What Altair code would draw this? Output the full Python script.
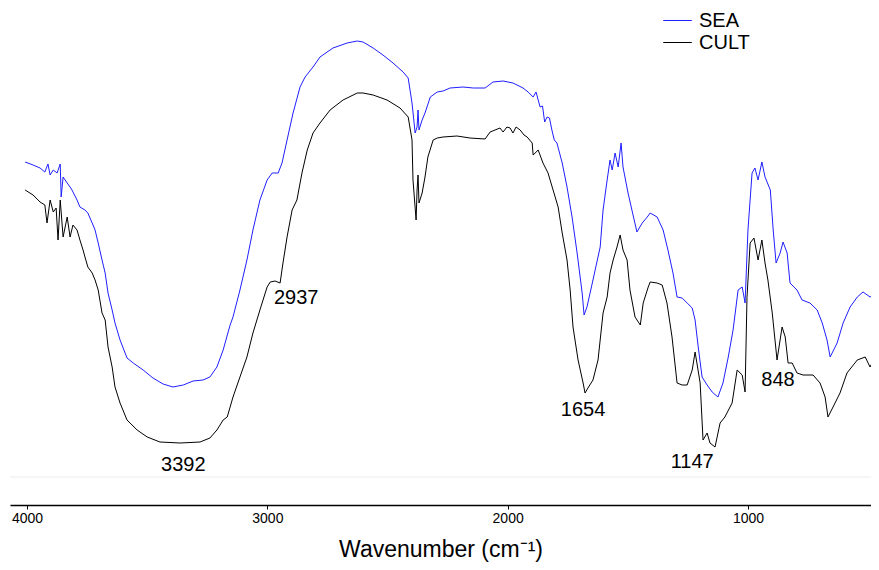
import altair as alt
import pandas as pd

# ---- data (wavenumber cm-1, transmittance a.u.) ----
sea_wn = [4008, 3975, 3946, 3926, 3913, 3904, 3891, 3875, 3862, 3858, 3850, 3833, 3821, 3813, 3792,
          3780, 3759, 3747, 3729, 3717, 3704, 3688, 3675, 3663, 3646, 3634, 3613, 3584, 3558, 3517,
          3476, 3434, 3393, 3350, 3309, 3268, 3239, 3210, 3184, 3155, 3143, 3114, 3085, 3060, 3031,
          3001, 2980, 2968, 2955, 2939, 2918, 2893, 2864, 2843, 2810, 2781, 2727, 2668, 2626, 2602,
          2560, 2519, 2477, 2435, 2414, 2398, 2385, 2377, 2373, 2369, 2356, 2344, 2322, 2293, 2269,
          2240, 2186, 2143, 2094, 2061, 2019, 1978, 1936, 1915, 1894, 1882, 1865, 1855, 1846, 1836,
          1826, 1816, 1806, 1795, 1773, 1753, 1732, 1711, 1690, 1682, 1670, 1645, 1615, 1603, 1586,
          1574, 1565, 1553, 1540, 1528, 1520, 1499, 1483, 1462, 1440, 1419, 1407, 1378, 1353, 1333,
          1312, 1295, 1274, 1253, 1232, 1220, 1207, 1191, 1170, 1149, 1125, 1104, 1082, 1062, 1041,
          1024, 1012, 1000, 983, 971, 958, 942, 929, 907, 895, 883, 866, 854, 837, 825,
          796, 775, 742, 712, 691, 671, 658, 629, 604, 575, 545, 521, 492, 471, 454]
sea_t = [68.6, 68.0, 67.4, 66.6, 68.2, 66.0, 67.0, 66.4, 68.2, 61.6, 65.6, 64.4, 63.6, 63.0, 61.0,
         59.6, 59.0, 58.4, 56.4, 55.0, 52.4, 49.0, 46.4, 42.4, 39.0, 36.4, 33.0, 29.4, 28.4, 27.0,
         25.4, 24.2, 23.6, 24.0, 24.8, 25.0, 25.6, 27.6, 31.0, 36.0, 37.6, 43.0, 49.0, 55.0, 61.0,
         65.0, 66.4, 66.4, 66.4, 68.4, 73.0, 78.4, 83.6, 85.6, 87.6, 89.6, 91.4, 92.4, 92.8, 92.6,
         91.4, 90.0, 88.4, 86.6, 85.4, 80.4, 74.4, 75.6, 79.0, 75.0, 77.0, 78.4, 81.6, 82.6, 82.8,
         83.4, 83.6, 83.4, 83.4, 84.6, 84.8, 84.4, 83.4, 82.6, 81.6, 82.6, 79.6, 79.8, 76.6, 77.6,
         77.4, 75.0, 73.0, 72.4, 68.4, 63.6, 57.6, 50.4, 42.4, 38.0, 39.6, 45.0, 51.6, 59.0, 65.0,
         69.0, 67.0, 70.4, 67.6, 72.4, 67.6, 62.4, 59.0, 54.6, 56.4, 57.6, 58.4, 57.6, 55.0, 51.0,
         46.4, 41.6, 41.4, 40.4, 39.4, 37.0, 31.6, 25.6, 24.0, 22.6, 21.6, 24.4, 29.6, 35.0, 43.0,
         43.6, 40.4, 55.0, 66.4, 67.4, 65.0, 68.6, 65.6, 63.0, 55.0, 48.4, 50.4, 52.6, 50.4, 44.4,
         43.0, 41.0, 40.4, 39.0, 36.4, 33.0, 29.6, 32.4, 36.4, 39.6, 41.6, 42.6, 41.6, 42.0, 40.6]

cult_wn = [4008, 3975, 3946, 3926, 3917, 3904, 3891, 3879, 3871, 3862, 3850, 3833, 3821, 3809, 3792,
           3780, 3767, 3759, 3747, 3729, 3717, 3704, 3688, 3675, 3663, 3646, 3634, 3613, 3584, 3542,
           3500, 3447, 3363, 3280, 3239, 3210, 3184, 3167, 3143, 3114, 3085, 3060, 3031, 3001, 2988,
           2968, 2947, 2935, 2918, 2897, 2877, 2856, 2834, 2810, 2781, 2739, 2685, 2626, 2602, 2560,
           2502, 2448, 2414, 2398, 2394, 2381, 2377, 2373, 2369, 2356, 2344, 2332, 2310, 2293, 2269,
           2211, 2157, 2094, 2073, 2032, 2019, 2003, 1990, 1978, 1965, 1948, 1932, 1919, 1898, 1894,
           1873, 1853, 1832, 1811, 1790, 1773, 1753, 1740, 1728, 1707, 1686, 1678, 1666, 1645, 1624,
           1603, 1586, 1574, 1561, 1545, 1532, 1520, 1503, 1491, 1470, 1448, 1436, 1415, 1407, 1378,
           1357, 1337, 1316, 1295, 1274, 1253, 1232, 1220, 1199, 1187, 1170, 1158, 1137, 1116, 1096,
           1066, 1045, 1024, 1012, 1004, 991, 975, 958, 942, 929, 917, 899, 879, 858, 845,
           833, 816, 796, 771, 729, 700, 679, 667, 646, 617, 588, 545, 512, 492, 471, 454]
cult_t = [63.0, 62.0, 60.6, 60.0, 56.4, 61.0, 58.6, 59.4, 53.0, 61.0, 53.6, 57.6, 53.6, 56.0, 55.0,
          53.0, 51.0, 49.6, 47.6, 46.4, 45.0, 43.0, 38.4, 37.0, 31.6, 27.6, 23.6, 20.4, 17.0, 15.0,
          13.6, 12.6, 12.4, 12.6, 13.4, 15.0, 17.0, 17.6, 21.6, 25.6, 29.6, 34.4, 39.0, 43.6, 44.6,
          44.8, 44.4, 48.4, 53.6, 59.0, 61.0, 66.4, 71.0, 74.4, 76.4, 79.0, 81.0, 82.4, 82.4, 82.0,
          81.0, 79.4, 77.6, 73.0, 65.0, 57.0, 63.0, 66.0, 60.4, 62.4, 65.6, 69.6, 73.0, 73.4, 73.6,
          73.8, 73.4, 73.2, 74.6, 75.4, 74.6, 75.6, 75.4, 74.4, 75.6, 75.0, 74.0, 73.6, 72.4, 70.0,
          71.0, 68.4, 66.4, 63.0, 59.6, 54.4, 49.0, 43.0, 35.6, 29.0, 24.4, 22.4, 23.4, 25.0, 29.0,
          38.4, 41.6, 46.4, 49.0, 51.6, 54.0, 51.0, 49.0, 43.0, 37.6, 36.0, 40.4, 43.6, 44.6, 44.4,
          44.0, 40.4, 33.6, 24.4, 24.0, 24.0, 27.0, 30.6, 24.4, 13.0, 14.4, 12.4, 11.6, 16.4, 17.6,
          20.4, 27.0, 26.0, 22.6, 41.6, 52.4, 53.4, 49.0, 53.0, 48.4, 45.0, 38.4, 29.0, 35.6, 33.6,
          28.4, 28.4, 26.4, 26.0, 26.0, 24.4, 21.6, 17.6, 19.6, 22.4, 26.4, 29.0, 29.6, 27.6, 29.6, 29.0]

peak_labels = ["3392", "2937", "1654", "1147", "848"]
peak_label_wn = [3350, 2880, 1686, 1232, 875]
peak_label_t = [8.0, 41.4, 19.0, 8.6, 25.0]

baseline_t = [5.6]
tick_values = [4000, 3000, 2000, 1000]
series_names = ["SEA", "CULT"]
series_colors = ["#1f1fff", "#000000"]

FONT = "Liberation Sans"

spec = pd.concat([
    pd.DataFrame({"wn": sea_wn, "t": sea_t, "series": "SEA"}),
    pd.DataFrame({"wn": cult_wn, "t": cult_t, "series": "CULT"}),
], ignore_index=True)
labels = pd.DataFrame({"label": peak_labels, "wn": peak_label_wn, "t": peak_label_t})
base = pd.DataFrame({"t": baseline_t})

xscale = alt.Scale(domain=[4071, 488], nice=False, zero=False)
yscale = alt.Scale(domain=[0, 99.4], nice=False, zero=False)

xaxis = alt.Axis(values=tick_values, format="d", labelFontSize=14, labelFont=FONT,
                 labelColor="black", tickSize=4, tickColor="black", domainColor="black",
                 domainWidth=1.5, tickWidth=1, grid=False, labelPadding=2,
                 title="Wavenumber (cm⁻¹)", titleFontSize=23, titleFont=FONT,
                 titleFontWeight="normal", titleColor="black", titlePadding=13)

baseline = alt.Chart(base).mark_rule(color="#ececec", strokeWidth=1).encode(
    y=alt.Y("t:Q", scale=yscale, axis=None)
)

lines = alt.Chart(spec).mark_line(strokeWidth=1, clip=True).encode(
    x=alt.X("wn:Q", scale=xscale, axis=xaxis),
    y=alt.Y("t:Q", scale=yscale, axis=None),
    color=alt.Color("series:N",
                    scale=alt.Scale(domain=series_names, range=series_colors),
                    sort=series_names,
                    legend=alt.Legend(title=None, orient="none", legendX=656, legendY=1,
                                      symbolType="M-1.3,0H1.3", symbolSize=484,
                                      symbolStrokeWidth=1, symbolFillColor="transparent",
                                      labelFontSize=20, labelFont=FONT, labelColor="black",
                                      labelOffset=10, rowPadding=0, padding=0)),
)

texts = alt.Chart(labels).mark_text(fontSize=20, font=FONT, color="black",
                                    align="center", baseline="middle").encode(
    x=alt.X("wn:Q", scale=xscale),
    y=alt.Y("t:Q", scale=yscale),
    text="label:N",
)

chart = alt.layer(baseline, lines, texts).properties(
    width=861, height=497,
    background="white",
    autosize=alt.AutoSizeParams(type="none"),
    padding={"left": 2, "top": 0, "right": 0, "bottom": 57},
).configure_view(stroke=None)

chart.save("out.html", embed_options={"renderer": "svg", "actions": False})
